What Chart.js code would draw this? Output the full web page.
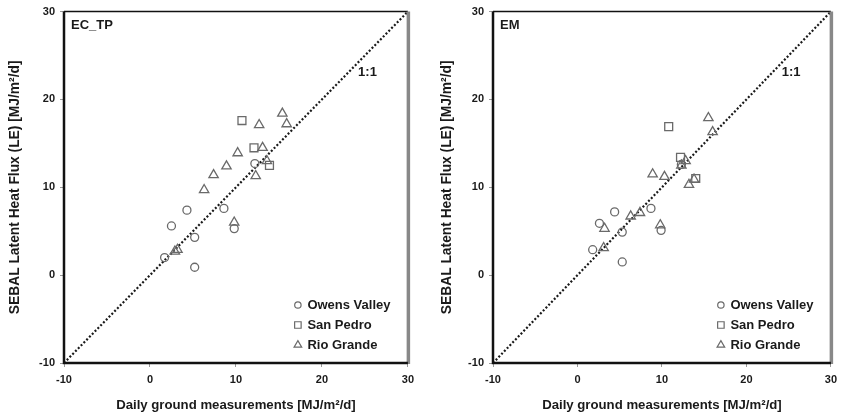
<!DOCTYPE html>
<html><head><meta charset="utf-8">
<script src="https://cdn.jsdelivr.net/npm/chart.js@4/dist/chart.umd.min.js"></script>
<style>
html,body{margin:0;padding:0;background:#fff;}
#wrap{position:relative;width:843px;height:417px;overflow:hidden;}
canvas{position:absolute;top:0;}
</style></head><body>
<div id="wrap">
<canvas id="c1" width="420" height="417" style="left:0"></canvas>
<canvas id="c2" width="423" height="417" style="left:420px"></canvas>
</div>
<script>
// ---- data ----
const axisTicks = [-10, 0, 10, 20, 30];
const oneToOne = [-10, 30];
const seriesNames = ['Owens Valley', 'San Pedro', 'Rio Grande'];
const xTitle = 'Daily ground measurements [MJ/m\u00B2/d]';
const yTitle = 'SEBAL Latent Heat Flux (LE) [MJ/m\u00B2/d]';

// EC_TP panel
const ecOwensX = [1.7, 2.5, 4.3, 5.2, 5.2, 8.6, 9.8, 12.2];
const ecOwensY = [2.0, 5.6, 7.4, 4.3, 0.9, 7.6, 5.3, 12.7];
const ecSanPedroX = [10.7, 12.1, 13.9];
const ecSanPedroY = [17.6, 14.5, 12.5];
const ecRioX = [2.9, 3.2, 6.3, 7.4, 8.9, 10.2, 9.8, 12.7, 13.1, 13.6, 12.3, 15.4, 15.9];
const ecRioY = [2.7, 2.9, 9.7, 11.4, 12.4, 13.9, 6.0, 17.1, 14.5, 13.0, 11.3, 18.4, 17.2];

// EM panel
const emOwensX = [1.8, 2.6, 4.4, 5.3, 5.3, 8.7, 9.9, 12.3];
const emOwensY = [2.9, 5.9, 7.2, 4.9, 1.5, 7.6, 5.1, 12.6];
const emSanPedroX = [10.8, 12.2, 14.0];
const emSanPedroY = [16.9, 13.4, 11.0];
const emRioX = [3.1, 3.2, 6.3, 7.4, 8.9, 10.3, 9.8, 12.8, 12.3, 13.2, 13.8, 15.5, 16.0];
const emRioY = [3.1, 5.3, 6.7, 7.1, 11.5, 11.2, 5.7, 13.0, 12.5, 10.3, 10.9, 17.9, 16.3];

// label anchor for the 1:1 text (data units)
const oneToOneLabel = {x: 25.3, y: 23.1};

// ---- helpers ----
const FONT = 'Arial, "Liberation Sans", sans-serif';
const MARK = '#6a6a6a';
const pts = (xs, ys) => xs.map((x, i) => ({x, y: ys[i]}));

const styles = [
  {pointStyle: 'circle', radius: 4, legendRadius: 3.2},
  {pointStyle: 'rect', radius: 5.6, legendRadius: 4.6},
  {pointStyle: 'triangle', radius: 5.4, legendRadius: 4.4}
];

function makeDatasets(sets) {
  const ds = sets.map((s, i) => ({
    type: 'scatter',
    label: seriesNames[i],
    data: pts(s[0], s[1]),
    pointStyle: styles[i].pointStyle,
    pointRadius: styles[i].radius,
    pointHoverRadius: styles[i].radius,
    legendRadius: styles[i].legendRadius,
    borderColor: MARK,
    backgroundColor: 'rgba(255,255,255,0)',
    pointBorderWidth: 1.3,
    inLegend: true
  }));
  ds.push({
    type: 'line',
    label: '1:1',
    data: pts(oneToOne, oneToOne),
    borderColor: '#1a1a1a',
    borderWidth: 2.2,
    borderDash: [2, 2],
    pointRadius: 0,
    fill: false,
    tension: 0,
    inLegend: false
  });
  return ds;
}

const framePlugin = {
  id: 'frame',
  afterDatasetsDraw(chart) {
    const {ctx, chartArea: a} = chart;
    ctx.save();
    ctx.setLineDash([]);
    ctx.strokeStyle = '#111';
    ctx.lineWidth = 1.5;
    ctx.beginPath(); ctx.moveTo(a.left, a.top); ctx.lineTo(a.right, a.top); ctx.stroke();
    ctx.strokeStyle = '#888';
    ctx.lineWidth = 3.5;
    ctx.beginPath(); ctx.moveTo(a.right + 0.5, a.top); ctx.lineTo(a.right + 0.5, a.bottom + 1); ctx.stroke();
    ctx.strokeStyle = '#111';
    ctx.lineWidth = 2.5;
    ctx.beginPath(); ctx.moveTo(a.left, a.top); ctx.lineTo(a.left, a.bottom); ctx.lineTo(a.right, a.bottom); ctx.stroke();
    ctx.restore();
  }
};

const textPlugin = {
  id: 'panelText',
  afterDraw(chart, args, opts) {
    const {ctx, chartArea: a, scales} = chart;
    ctx.save();
    ctx.fillStyle = '#1a1a1a';
    ctx.font = 'bold 13px ' + FONT;
    ctx.textBaseline = 'middle';
    ctx.textAlign = 'left';
    ctx.fillText(opts.panel, a.left + 7, a.top + 14);
    ctx.textAlign = 'center';
    ctx.fillText('1:1', scales.x.getPixelForValue(oneToOneLabel.x), scales.y.getPixelForValue(oneToOneLabel.y));
    // legend
    const rows = chart.data.datasets.filter(d => d.inLegend);
    rows.forEach((d, i) => {
      const y = a.bottom - 58 + i * 20;
      const x = a.right - 110;
      ctx.strokeStyle = MARK;
      ctx.fillStyle = 'rgba(255,255,255,0)';
      ctx.lineWidth = 1.2;
      Chart.helpers.drawPoint(ctx, {pointStyle: d.pointStyle, radius: d.legendRadius, rotation: 0, borderWidth: 1.2}, x, y);
      ctx.fillStyle = '#1a1a1a';
      ctx.textAlign = 'left';
      ctx.fillText(d.label, x + 9.5, y);
    });
    ctx.restore();
  }
};

function makeChart(id, panel, sets, yAxisWidth, yTitlePad, padRight) {
  const tickFont = {family: FONT, size: 11, weight: 'bold'};
  const xTitleFont = {family: FONT, size: 13.2, weight: 'bold'};
  const yTitleFont = {family: FONT, size: 13.8, weight: 'bold'};
  return new Chart(document.getElementById(id), {
    data: {datasets: makeDatasets(sets)},
    options: {
      responsive: false,
      animation: false,
      layout: {padding: {top: 11, right: padRight, left: 0, bottom: 0}},
      plugins: {legend: {display: false}, tooltip: {enabled: false}, panelText: {panel}},
      scales: {
        x: {
          type: 'linear', min: axisTicks[0], max: axisTicks[axisTicks.length - 1],
          afterBuildTicks: s => { s.ticks = axisTicks.map(v => ({value: v})); },
          ticks: {font: tickFont, color: '#1a1a1a', padding: 6, maxRotation: 0, autoSkip: false},
          grid: {drawOnChartArea: false, drawTicks: true, tickLength: 4, color: '#999'},
          border: {display: false},
          title: {display: true, text: xTitle, font: xTitleFont, color: '#1a1a1a', padding: {top: 0, bottom: 4}},
          afterFit: s => { s.height = 54; }
        },
        y: {
          type: 'linear', min: axisTicks[0], max: axisTicks[axisTicks.length - 1],
          afterBuildTicks: s => { s.ticks = axisTicks.map(v => ({value: v})); },
          ticks: {font: tickFont, color: '#1a1a1a', padding: 5},
          grid: {drawOnChartArea: false, drawTicks: true, tickLength: 4, color: '#999'},
          border: {display: false},
          title: {display: true, text: yTitle, font: yTitleFont, color: '#1a1a1a', padding: {top: yTitlePad, bottom: 0}},
          afterFit: s => { s.width = yAxisWidth; }
        }
      }
    },
    plugins: [framePlugin, textPlugin]
  });
}

makeChart('c1', 'EC_TP', [[ecOwensX, ecOwensY], [ecSanPedroX, ecSanPedroY], [ecRioX, ecRioY]], 64, 7, 7);
makeChart('c2', 'EM', [[emOwensX, emOwensY], [emSanPedroX, emSanPedroY], [emRioX, emRioY]], 73, 19, 2);
</script>
</body></html>
